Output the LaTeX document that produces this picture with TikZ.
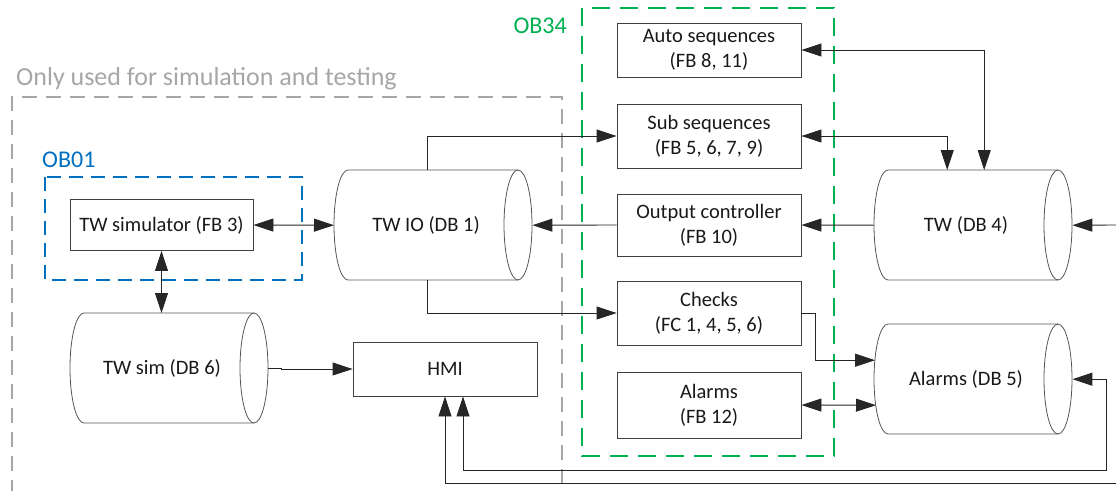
\documentclass[tikz,border=0pt]{standalone}
\usepackage{fontspec}
\setmainfont{Carlito}
\usetikzlibrary{arrows.meta,calc}
\definecolor{obgreen}{HTML}{00B050}
\definecolor{obblue}{HTML}{0070C0}
\definecolor{simgray}{HTML}{A6A6A6}
\definecolor{edge}{HTML}{404040}
\definecolor{cylgray}{HTML}{555555}
\definecolor{wire}{HTML}{262626}
\newcommand\boxfont{\fontsize{20.5}{25}\selectfont}
\newcommand\tagfont{\fontsize{24}{28}\selectfont}
% data block drawn as a lying cylinder: #1 name, #2 left x, #3 top y, #4 label
\newcommand\dbcyl[4]{%
  \node[minimum width=198pt, minimum height=110pt, inner sep=0pt,
        anchor=north west] (#1) at (#2,#3) {};
  \node[font=\boxfont, text=black!90, inner sep=0pt] (#1-text) at (#2+92,#3+55) {#4};
  \draw[cylline] (#2+184,#3) -- (#2+14,#3)
     arc[start angle=90, end angle=270, x radius=14pt, y radius=55pt]
     -- (#2+184,#3+110);
  \draw[cylline] (#2+184,#3+55) ellipse[x radius=14pt, y radius=55pt];
}
\begin{document}
\begin{tikzpicture}[x=1pt, y=-1pt,
  >={Triangle[length=20pt,width=13pt]},
  block/.style={draw=edge, line width=0.9pt, minimum width=184pt,
                align=center, font=\boxfont, inner sep=0pt, text=black!90},
  cylline/.style={draw=cylgray, line width=0.8pt},
  link/.style={draw=wire, line width=0.9pt},
  simbox/.style={draw=simgray, line width=1.3pt, dash pattern=on 15pt off 9pt},
  blueframe/.style={draw=obblue, line width=1.3pt, dash pattern=on 14pt off 8pt},
  greenframe/.style={draw=obgreen, line width=1.3pt, dash pattern=on 18pt off 10pt},
  tag/.style={font=\tagfont, inner sep=0pt}]
\useasboundingbox (0,0) rectangle (1116,490);

% grouping frames
\draw[simbox] (12,495) -- (12,97) -- (562,97) -- (562,495);
\draw[blueframe] (45,177) rectangle (302,280);
\draw[greenframe] (582,8) rectangle (834,456);
\node[tag, font=\fontsize{26}{30}\selectfont, text=simgray, anchor=base west] (simtag) at (16,85) {Only used for simulation and testing};
\node[tag, text=obblue, anchor=base west] (ob01tag) at (42,167) {OB01};
\node[tag, text=obgreen, anchor=base east] (ob34tag) at (567,33) {OB34};

% function blocks
\node[block, minimum height=54pt] (auto) at (709,50) {Auto sequences\\(FB 8, 11)};
\node[block, minimum height=64pt] (sub) at (709,136) {Sub sequences\\(FB 5, 6, 7, 9)};
\node[block, minimum height=62pt] (outc) at (709,225) {Output controller\\(FB 10)};
\node[block, minimum height=64pt] (checks) at (709,313) {Checks\\(FC 1, 4, 5, 6)};
\node[block, minimum height=66pt] (alarmfb) at (709,405) {Alarms\\(FB 12)};
\node[block, minimum width=183pt, minimum height=51pt] (twsim) at (161.5,225) {TW simulator (FB 3)};
\node[block, minimum height=54pt] (hmi) at (445,369) {HMI};

% data blocks
\dbcyl{twio}{334}{170}{TW IO (DB 1)}
\dbcyl{db4}{874}{170}{TW (DB 4)}
\dbcyl{db5}{874}{324}{Alarms (DB 5)}
\dbcyl{dbsim}{70}{313}{TW sim (DB 6)}

% free line ends at the right margin
\coordinate (feedA) at (1116,225);
\coordinate (feedB) at (1116,483);
\coordinate (loopR) at (1106,470);

% connections
\draw[link,<->] (twsim.east) -- (twio.west);
\draw[link,<->] (twsim.south) -- (twsim.south |- dbsim.north);
\draw[link,->] (dbsim.east) -- ++(13,0) |- (hmi.west);
\draw[link,->] ($(twio.north)+(-6,0)$) |- (sub.west);
\draw[link,->] ($(twio.south)+(-6,0)$) |- (checks.west);
\draw[link,->] (outc.west) -- (twio.east);
\draw[link,->] (db4.west) -- (outc.east);
\draw[link,<->] (auto.east) -| ($(db4.north)+(11,0)$);
\draw[link,<->] (sub.east) -| ($(db4.north)+(-26,0)$);
\draw[link,->] (feedA) -- (db4.east);
\draw[link,->] (checks.east) -- ++(14,0) |- ($(db5.west)+(1,-19)$);
\draw[link,<->] (alarmfb.east) -- ($(db5.west)+(2,26)$);
\draw[link,<->] (db5.east) -| (loopR) -| ($(hmi.south)+(18,0)$);
\draw[link,->] (feedB) -| (hmi.south);
\end{tikzpicture}
\end{document}
